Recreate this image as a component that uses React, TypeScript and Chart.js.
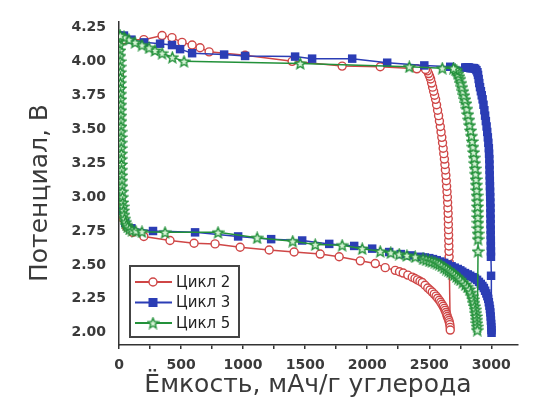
import React, { useEffect, useRef } from 'react';
import { Chart, registerables } from 'chart.js';

Chart.register(...registerables);

const seriesLabels = ['Цикл 2', 'Цикл 3', 'Цикл 5'];
const xTickValues = [0, 250, 500, 750, 1000, 1250, 1500, 1750, 2000, 2250, 2500, 2750, 3000];
const xLabelStep = 500;
const yTickValues = [2.0, 2.25, 2.5, 2.75, 3.0, 3.25, 3.5, 3.75, 4.0, 4.25];
const xAxisTitle = 'Ёмкость, мАч/г углерода';
const yAxisTitle = 'Потенциал, В';

// Цикл 2 : discharge (lower) then charge (upper), [capacity, potential]
const cycle2Points: number[][] = [
  [0, 4.15], [3, 3.9], [5, 3.6], [8, 3.3], [12, 3.05], [20, 2.92], [35, 2.84], [60, 2.78],
  [110, 2.74], [200, 2.71], [411, 2.68], [605, 2.66], [774, 2.655], [976, 2.63], [1210, 2.61],
  [1411, 2.595], [1621, 2.58], [1774, 2.56], [1944, 2.53], [2065, 2.51], [2145, 2.48],
  [2226, 2.46], [2260, 2.45], [2290, 2.44], [2327, 2.425], [2363, 2.41], [2385, 2.4],
  [2405, 2.39], [2425, 2.38], [2444, 2.37], [2466, 2.35], [2488, 2.33], [2506, 2.315],
  [2524, 2.3], [2540, 2.285], [2555, 2.27], [2568, 2.255], [2581, 2.24], [2592, 2.225],
  [2602, 2.21], [2612, 2.195], [2621, 2.18], [2628, 2.165], [2635, 2.15], [2641, 2.135],
  [2645, 2.12], [2652, 2.105], [2658, 2.09], [2662, 2.075], [2666, 2.06], [2668, 2.04],
  [2669, 2.02],
  [2661, 2.52], [2660, 2.56], [2659, 2.6], [2658, 2.64], [2657, 2.68], [2656, 2.72],
  [2655, 2.76], [2654, 2.8], [2653, 2.84], [2652, 2.88], [2650, 2.92], [2648, 2.96],
  [2646, 3.0], [2643, 3.04], [2640, 3.08], [2637, 3.12], [2634, 3.16], [2630, 3.2],
  [2626, 3.24], [2622, 3.28], [2617, 3.32], [2612, 3.36], [2607, 3.4], [2601, 3.44],
  [2595, 3.48], [2589, 3.52], [2582, 3.56], [2575, 3.6], [2567, 3.64], [2559, 3.68],
  [2551, 3.72], [2543, 3.75], [2535, 3.78], [2527, 3.81], [2519, 3.84], [2511, 3.87],
  [2503, 3.89], [2494, 3.91], [2484, 3.93], [2470, 3.94], [2400, 3.945],
  [2105, 3.96], [1798, 3.965], [1395, 4.0], [1016, 4.045], [726, 4.07], [653, 4.1],
  [589, 4.12], [508, 4.14], [427, 4.175], [347, 4.19], [200, 4.16], [40, 4.16],
];

// Цикл 3
const cycle3Points: number[][] = [
  [0, 4.19], [4, 3.8], [8, 3.4], [14, 3.05], [25, 2.9], [50, 2.81], [100, 2.77],
  [274, 2.75], [613, 2.74], [960, 2.71], [1226, 2.69], [1476, 2.68], [1694, 2.655],
  [1895, 2.64], [2040, 2.62], [2177, 2.595], [2270, 2.58], [2350, 2.57], [2430, 2.56],
  [2465, 2.555], [2500, 2.55], [2530, 2.543], [2560, 2.535], [2590, 2.525], [2620, 2.515],
  [2650, 2.503], [2680, 2.49], [2705, 2.48], [2730, 2.47], [2750, 2.46], [2766, 2.45],
  [2788, 2.44], [2810, 2.43], [2830, 2.42], [2850, 2.41], [2868, 2.4], [2885, 2.39],
  [2900, 2.375], [2915, 2.36], [2928, 2.345], [2940, 2.33], [2950, 2.31], [2960, 2.29],
  [2968, 2.27], [2975, 2.25], [2980, 2.225], [2985, 2.2], [2989, 2.175], [2992, 2.15],
  [2995, 2.12], [2997, 2.09], [2999, 2.065], [3000, 2.04], [3001, 2.02], [3002, 2.0],
  [2998, 2.42], [2997, 2.56], [2997, 2.6], [2996, 2.64], [2996, 2.68], [2995, 2.72],
  [2995, 2.76], [2994, 2.8], [2994, 2.84], [2993, 2.88], [2993, 2.92], [2992, 2.96],
  [2991, 3.0], [2990, 3.04], [2989, 3.08], [2988, 3.12], [2987, 3.16], [2986, 3.2],
  [2985, 3.24], [2984, 3.28], [2982, 3.32], [2980, 3.36], [2976, 3.4], [2972, 3.44],
  [2967, 3.48], [2962, 3.52], [2956, 3.56], [2950, 3.6], [2944, 3.64], [2937, 3.68],
  [2930, 3.72], [2923, 3.75], [2916, 3.78], [2909, 3.81], [2903, 3.84], [2898, 3.87],
  [2893, 3.9], [2888, 3.92], [2880, 3.935], [2870, 3.945], [2860, 3.95], [2850, 3.95],
  [2840, 3.95], [2830, 3.95], [2820, 3.955], [2810, 3.955], [2800, 3.955], [2790, 3.955],
  [2669, 3.96], [2460, 3.97], [2161, 3.99], [1879, 4.02], [1556, 4.02], [1419, 4.035],
  [1016, 4.04], [847, 4.05], [589, 4.06], [492, 4.09], [427, 4.12], [331, 4.13],
  [202, 4.14], [100, 4.16], [40, 4.19],
];

// Цикл 5
const cycle5Points: number[][] = [
  [0, 4.19], [3, 4.16], [5, 4.12], [7, 4.08], [8, 4.04], [9, 4.0], [10, 3.96], [11, 3.92],
  [12, 3.88], [12, 3.84], [13, 3.8], [13, 3.76], [14, 3.72], [14, 3.68], [15, 3.64],
  [15, 3.6], [16, 3.56], [16, 3.52], [17, 3.48], [17, 3.44], [18, 3.4], [18, 3.36],
  [19, 3.32], [19, 3.28], [20, 3.24], [21, 3.2], [22, 3.16], [23, 3.12], [24, 3.08],
  [26, 3.04], [28, 3.0], [30, 2.96], [33, 2.93], [36, 2.9], [40, 2.87], [45, 2.84],
  [52, 2.815], [60, 2.795], [70, 2.78], [85, 2.765], [105, 2.755], [135, 2.75], [185, 2.745],
  [371, 2.74], [798, 2.74], [1113, 2.7], [1400, 2.675], [1581, 2.65], [1798, 2.645],
  [1960, 2.62], [2105, 2.6], [2190, 2.59], [2258, 2.58], [2320, 2.57], [2387, 2.56],
  [2450, 2.545], [2475, 2.538], [2500, 2.53], [2522, 2.525], [2545, 2.52], [2563, 2.512],
  [2581, 2.505], [2600, 2.493], [2620, 2.48], [2638, 2.47], [2655, 2.46], [2670, 2.45],
  [2685, 2.44], [2702, 2.428], [2720, 2.415], [2735, 2.403], [2750, 2.39], [2770, 2.373],
  [2790, 2.355], [2807, 2.338], [2823, 2.32], [2835, 2.295], [2845, 2.27], [2853, 2.245],
  [2860, 2.22], [2866, 2.195], [2871, 2.17], [2875, 2.145], [2879, 2.12], [2882, 2.095],
  [2884, 2.07], [2886, 2.045], [2887, 2.02],
  [2893, 2.6], [2893, 2.69], [2893, 2.73], [2892, 2.77], [2892, 2.81], [2891, 2.85],
  [2890, 2.89], [2889, 2.93], [2887, 2.97], [2885, 3.01], [2883, 3.05], [2880, 3.09],
  [2877, 3.13], [2874, 3.17], [2870, 3.21], [2866, 3.25], [2862, 3.29], [2857, 3.33],
  [2852, 3.37], [2846, 3.41], [2840, 3.45], [2833, 3.49], [2826, 3.53], [2819, 3.57],
  [2811, 3.61], [2803, 3.65], [2795, 3.69], [2787, 3.72], [2779, 3.75], [2771, 3.78],
  [2763, 3.81], [2755, 3.84], [2747, 3.87], [2739, 3.89], [2731, 3.91], [2722, 3.93],
  [2710, 3.94], [2695, 3.95],
  [2605, 3.95], [2339, 3.96], [1460, 3.985], [524, 4.0], [430, 4.03], [347, 4.06],
  [290, 4.08], [242, 4.1], [185, 4.12], [129, 4.14], [80, 4.16], [40, 4.18], [10, 4.19],
];

const RED = '#cf4646';
const BLUE = '#2b3db5';
const GREEN = '#23913a';
const AXIS = '#333333';
const TEXT = '#3a3a3a';

function makeStar(color: string, size: number): HTMLCanvasElement {
  const c = document.createElement('canvas');
  c.width = size;
  c.height = size;
  const g = c.getContext('2d')!;
  const cx = size / 2;
  const cy = size / 2 + 0.5;
  const R = size / 2 - 1;
  const r = R * 0.45;
  g.beginPath();
  for (let i = 0; i < 10; i++) {
    const a = -Math.PI / 2 + (i * Math.PI) / 5;
    const rad = i % 2 === 0 ? R : r;
    g.lineTo(cx + rad * Math.cos(a), cy + rad * Math.sin(a));
  }
  g.closePath();
  g.fillStyle = '#d4f2d4';
  g.fill();
  g.strokeStyle = color;
  g.lineWidth = 1.4;
  g.stroke();
  return c;
}

export default function App() {
  const ref = useRef<HTMLCanvasElement>(null);

  useEffect(() => {
    const canvas = ref.current;
    if (!canvas) return;
    const star = makeStar(GREEN, 13);
    const toData = (pts: number[][]) => pts.map(([x, y]) => ({ x, y }));

    const titlesPlugin = {
      id: 'axisTitles',
      afterDraw(chart: any) {
        const { ctx, chartArea } = chart;
        ctx.save();
        ctx.fillStyle = TEXT;
        ctx.textAlign = 'center';
        ctx.textBaseline = 'middle';
        ctx.font = '25px "DejaVu Sans"';
        ctx.fillText(xAxisTitle, chartArea.left + 189, chartArea.bottom + 40);
        ctx.translate(40, chartArea.top + 171);
        ctx.rotate(-Math.PI / 2);
        ctx.fillText(yAxisTitle, 0, 0);
        ctx.restore();
      },
    };

    const legendPlugin = {
      id: 'boxLegend',
      afterDraw(chart: any) {
        const { ctx, chartArea } = chart;
        const x0 = chartArea.left + 11;
        const y0 = chartArea.bottom - 79;
        const w = 109;
        const h = 71;
        ctx.save();
        ctx.fillStyle = '#ffffff';
        ctx.fillRect(x0, y0, w, h);
        ctx.strokeStyle = '#444';
        ctx.lineWidth = 2;
        ctx.strokeRect(x0, y0, w, h);
        chart.data.datasets.forEach((ds: any, i: number) => {
          const cy = y0 + 16 + i * 20.5;
          const mx = x0 + 23;
          ctx.strokeStyle = ds.borderColor;
          ctx.lineWidth = 2;
          ctx.beginPath();
          ctx.moveTo(x0 + 5, cy);
          ctx.lineTo(x0 + 42, cy);
          ctx.stroke();
          if (i === 0) {
            ctx.beginPath();
            ctx.arc(mx, cy, 4, 0, Math.PI * 2);
            ctx.fillStyle = '#fff';
            ctx.fill();
            ctx.lineWidth = 1.4;
            ctx.strokeStyle = RED;
            ctx.stroke();
          } else if (i === 1) {
            ctx.fillStyle = BLUE;
            ctx.fillRect(mx - 4.5, cy - 4.5, 9, 9);
          } else {
            ctx.drawImage(star, mx - star.width / 2, cy - star.height / 2);
          }
          ctx.fillStyle = '#222';
          ctx.font = '15px "DejaVu Sans"';
          ctx.textBaseline = 'middle';
          ctx.textAlign = 'left';
          ctx.fillText(ds.label, x0 + 46, cy + 1);
        });
        ctx.restore();
      },
    };

    const chart = new Chart(canvas, {
      type: 'scatter',
      data: {
        datasets: [
          {
            label: seriesLabels[0],
            data: toData(cycle2Points),
            showLine: true,
            borderColor: RED,
            borderWidth: 1.5,
            pointStyle: 'circle',
            pointRadius: 4,
            pointBorderWidth: 1.4,
            pointBackgroundColor: '#ffffff',
            pointBorderColor: RED,
            order: 3,
          },
          {
            label: seriesLabels[1],
            data: toData(cycle3Points),
            showLine: true,
            borderColor: BLUE,
            borderWidth: 1.5,
            pointStyle: 'rect',
            pointRadius: 6,
            pointBorderWidth: 0,
            pointBackgroundColor: BLUE,
            pointBorderColor: BLUE,
            order: 2,
          },
          {
            label: seriesLabels[2],
            data: toData(cycle5Points),
            showLine: true,
            borderColor: GREEN,
            borderWidth: 1.5,
            pointStyle: star,
            pointRadius: 6,
            pointBackgroundColor: GREEN,
            pointBorderColor: GREEN,
            order: 1,
          },
        ] as any,
      },
      options: {
        animation: false,
        responsive: false,
        events: [],
        layout: { padding: { top: 22, right: 21, left: 0, bottom: 0 } },
        plugins: {
          legend: { display: false },
          tooltip: { enabled: false },
        },
        scales: {
          x: {
            type: 'linear',
            min: 0,
            max: 3215,
            afterBuildTicks: (s: any) => {
              s.ticks = xTickValues.map((v) => ({ value: v }));
            },
            afterFit: (s: any) => {
              s.height = 65;
            },
            grid: { drawOnChartArea: false, drawTicks: true, tickLength: 4, color: AXIS, lineWidth: 1.5 },
            border: { display: true, color: AXIS, width: 1.5 },
            ticks: {
              autoSkip: false,
              maxRotation: 0,
              padding: 8,
              color: TEXT,
              font: { family: 'DejaVu Sans', size: 14, weight: 'bold' },
              callback: (v: any) => (Number(v) % xLabelStep === 0 ? String(v) : ''),
            },
            title: { display: false, text: xAxisTitle },
          },
          y: {
            type: 'linear',
            min: 1.91,
            max: 4.29,
            afterBuildTicks: (s: any) => {
              s.ticks = yTickValues.map((v) => ({ value: v }));
            },
            afterFit: (s: any) => {
              s.width = 119;
            },
            grid: { drawOnChartArea: false, drawTicks: false, color: AXIS },
            border: { display: true, color: AXIS, width: 1.5 },
            ticks: {
              autoSkip: false,
              padding: 13,
              color: TEXT,
              font: { family: 'DejaVu Sans', size: 14, weight: 'bold' },
              callback: (v: any) => Number(v).toFixed(2),
            },
            title: { display: false, text: yAxisTitle },
          },
        },
      } as any,
      plugins: [legendPlugin, titlesPlugin],
    });
    return () => chart.destroy();
  }, []);

  return (
    <div style={{ position: 'absolute', left: 0, top: 0, width: 539, height: 410, background: '#ffffff' }}>
      <canvas ref={ref} width={539} height={410} style={{ display: 'block' }} />
    </div>
  );
}
